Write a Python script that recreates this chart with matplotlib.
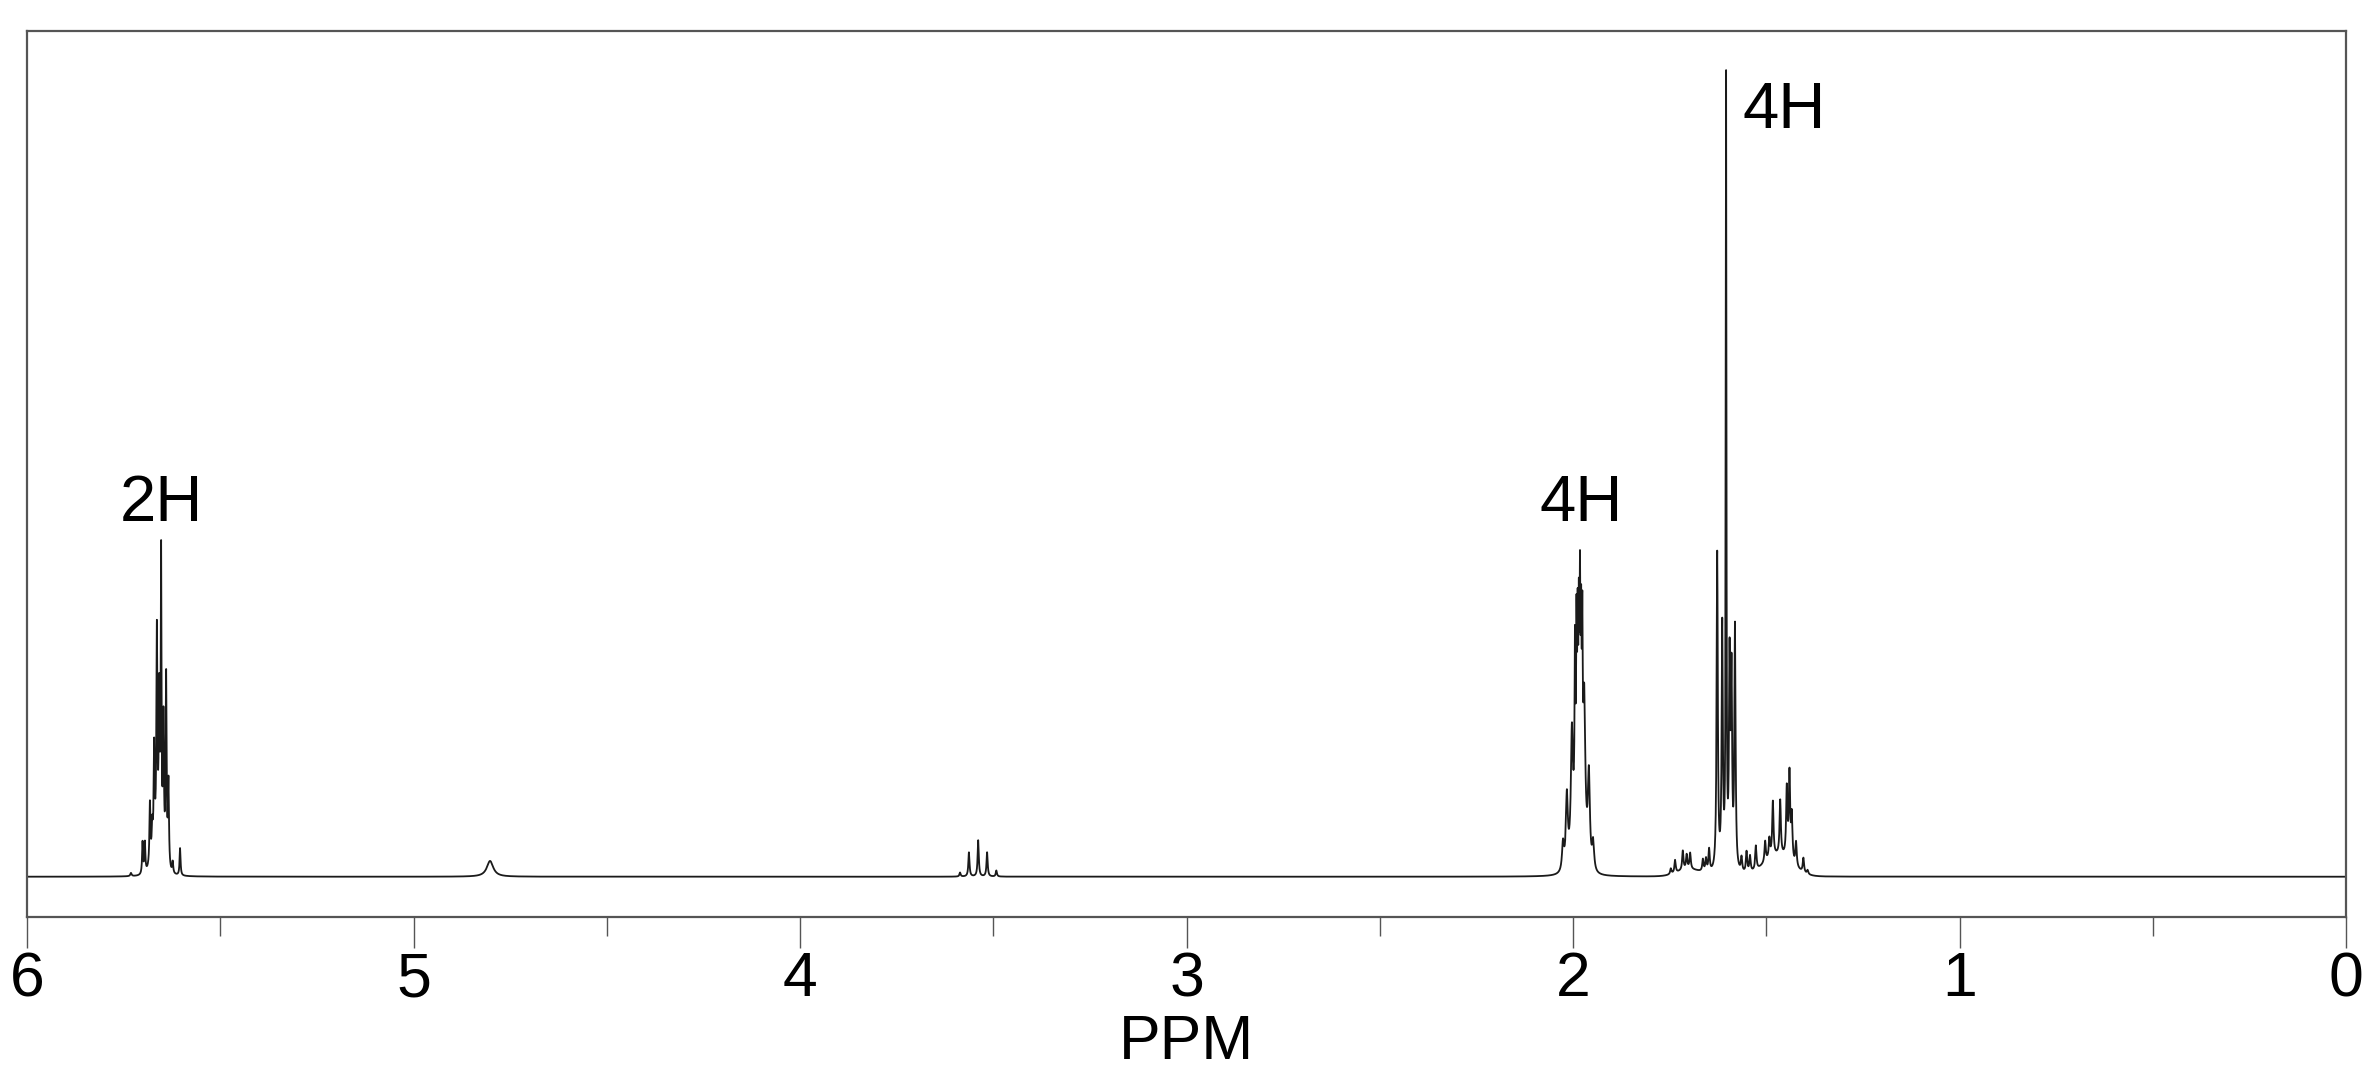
import numpy as np
import matplotlib
matplotlib.use("Agg")
import matplotlib.pyplot as plt
from matplotlib.ticker import MultipleLocator

plt.rcParams['font.family'] = ['Liberation Sans', 'DejaVu Sans']

# peak table: shift (ppm), height, half width (ppm)
shift_2h  = [5.731, 5.701, 5.695, 5.682, 5.676, 5.671, 5.664, 5.658, 5.653, 5.647, 5.640, 5.634, 5.623, 5.604]
height_2h = [0.004, 0.040, 0.038, 0.075, 0.035, 0.125, 0.265, 0.185, 0.365, 0.170, 0.235, 0.105, 0.014, 0.034]
width_2h  = [0.002, 0.0015, 0.0015, 0.0015, 0.0015, 0.0015, 0.0015, 0.0015, 0.0012, 0.0015, 0.0015, 0.0015, 0.0015, 0.0015]

shift_48  = [4.802]
height_48 = [0.0196]
width_48  = [0.010]

shift_35  = [3.586, 3.563, 3.539, 3.516, 3.492]
height_35 = [0.005, 0.030, 0.045, 0.030, 0.0075]
width_35  = [0.0018, 0.0018, 0.0018, 0.0018, 0.0018]

shift_20  = [2.026, 2.016, 2.003, 1.995, 1.991, 1.988, 1.985, 1.982, 1.979, 1.976,
             1.971, 1.959, 1.948]
height_20 = [0.035, 0.090, 0.140, 0.195, 0.200, 0.185, 0.190, 0.230, 0.185, 0.195,
             0.160, 0.110, 0.035]
width_20  = [0.003, 0.003, 0.003, 0.0012, 0.0012, 0.0012, 0.0012, 0.0012, 0.0012, 0.0012,
             0.003, 0.003, 0.003]

shift_16  = [1.747, 1.736, 1.716, 1.706, 1.697, 1.664, 1.656, 1.648,
             1.627, 1.614, 1.604, 1.595, 1.590, 1.581,
             1.564, 1.551, 1.542, 1.527, 1.503, 1.492, 1.483, 1.464,
             1.447, 1.440, 1.434, 1.423, 1.404, 1.393]
height_16 = [0.007, 0.016, 0.024, 0.018, 0.020, 0.015, 0.016, 0.028,
             0.395, 0.300, 0.975, 0.250, 0.230, 0.300,
             0.018, 0.026, 0.020, 0.030, 0.026, 0.024, 0.068, 0.068,
             0.085, 0.105, 0.055, 0.030, 0.018, 0.005]
width_16  = [0.002] * 8 + [0.0018, 0.0018, 0.0010, 0.0018, 0.0018, 0.0018] + [0.002] * 14

# broad humps under the crowded multiplets
shift_hump  = [1.70, 1.47, 5.665, 1.985]
height_hump = [0.008, 0.025, 0.030, 0.090]
width_hump  = [0.03, 0.035, 0.012, 0.013]

labels      = ["2H", "4H", "4H"]
label_x     = [5.651, 1.979, 1.561]
label_y     = [0.442, 0.442, 0.931]
label_align = ["center", "center", "left"]


def lorentz(x, p, h, w):
    return h / (1.0 + ((x - p) / w) ** 2)


ppm = np.linspace(0, 6, 60001)
intensity = np.zeros_like(ppm)
for s, h, w in zip(shift_2h + shift_48 + shift_35 + shift_20 + shift_16,
                   height_2h + height_48 + height_35 + height_20 + height_16,
                   width_2h + width_48 + width_35 + width_20 + width_16):
    intensity += lorentz(ppm, s, h, w)
for s, h, w in zip(shift_hump, height_hump, width_hump):
    intensity += h * np.exp(-0.5 * ((ppm - s) / w) ** 2)

fig = plt.figure(figsize=(23.7, 10.78), dpi=100)
ax = fig.add_axes([0.0114, 0.1494, 0.9785, 0.8218])
ax.plot(ppm, intensity, color='#1a1a1a', lw=1.3)

ax.set_xlim(6, 0)
ax.set_ylim(-0.05, 1.051)
ax.set_yticks([])
ax.xaxis.set_major_locator(MultipleLocator(1))
ax.xaxis.set_minor_locator(MultipleLocator(0.5))
ax.tick_params(axis='x', which='major', length=22, width=1, color='#555555',
               labelsize=45, pad=2)
ax.tick_params(axis='x', which='minor', length=13.5, width=1, color='#555555')
for sp in ax.spines.values():
    sp.set_color('#555555')
    sp.set_linewidth(1.6)
ax.set_xlabel("PPM", fontsize=45, labelpad=3)

for t, x, y, a in zip(labels, label_x, label_y, label_align):
    ax.text(x, y, t, fontsize=47, ha=a, va='baseline')

fig.savefig("out.png", dpi=100)
